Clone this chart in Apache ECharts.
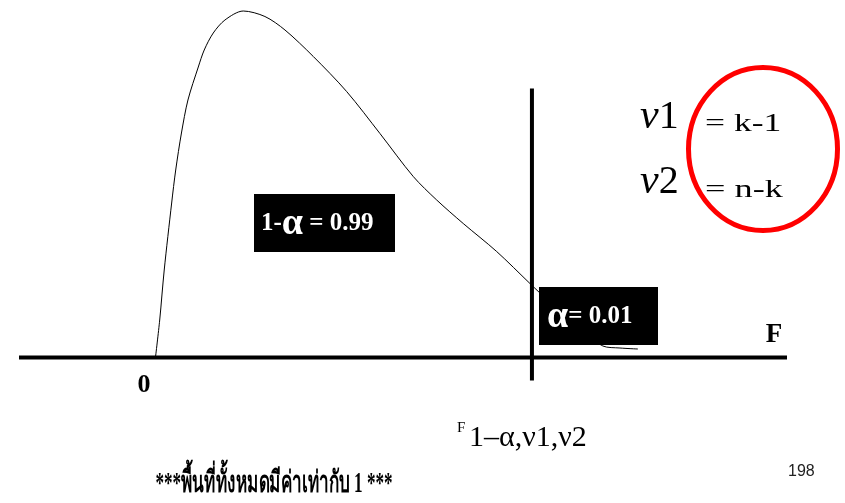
<!DOCTYPE html>
<html>
<head>
<meta charset="utf-8">
<script src="https://cdn.jsdelivr.net/npm/echarts@6/dist/echarts.min.js"></script>
<style>
  html, body { margin: 0; padding: 0; background: #fff; }
  #chart { width: 845px; height: 503px; }
</style>
</head>
<body>
<div id="chart"></div>
<script>
// F-distribution density curve (values of F and the height of the curve)
const fValues = [0, 0.045, 0.093, 0.172, 0.215, 0.276, 0.345, 0.455, 0.518, 0.614, 0.738, 0.933,
  1.163, 1.376, 1.677, 2.031, 2.385, 2.739, 2.988, 3.270, 3.625, 3.979, 4.085, 4.404, 4.754, 4.935, 5.126];
const density = [0, 0.075, 0.175, 0.309, 0.375, 0.449, 0.515, 0.581, 0.615, 0.649, 0.675, 0.693,
  0.682, 0.655, 0.602, 0.532, 0.448, 0.362, 0.315, 0.268, 0.212, 0.148, 0.129, 0.075, 0.023, 0.019, 0.017];

// critical value F(1-α, ν1, ν2) and the two areas
const fCritical = 4.0;
const alpha = 0.01;
const confidence = 0.99;

// horizontal extent of the F axis and height of the critical line
const fAxisRange = [-1.45, 6.71];
const criticalLine = [-0.046, 0.538];

const SERIF = "'Liberation Serif', 'Times New Roman', serif";

const chart = echarts.init(document.getElementById('chart'), null, { renderer: 'canvas' });

function txt(x, y, text, font, opts) {
  const o = opts || {};
  const el = {
    type: 'text', x: x, y: y, z: 100,
    style: Object.assign({
      text: text, font: font, fill: o.fill || '#000',
      align: o.align || 'left', verticalAlign: o.va || 'middle',
      textAlign: o.align || 'left', textVerticalAlign: o.va || 'middle'
    }, o.rich ? { rich: o.rich } : {})
  };
  if (o.scaleX) el.scaleX = o.scaleX;
  return el;
}

const boxRich = {
  a: { fontSize: 25, fontWeight: 'bold', fontFamily: SERIF, fill: '#fff' },
  b: { fontSize: 38, fontWeight: 'bold', fontFamily: SERIF, fill: '#fff' }
};
const nuRich = {
  i: { fontSize: 42, fontStyle: 'italic', fontFamily: SERIF, fill: '#000' },
  n: { fontSize: 40, fontFamily: SERIF, fill: '#000' }
};

const option = {
  animation: false,
  backgroundColor: '#fff',
  grid: { left: 19, right: 58, top: 7.5, bottom: 145.5 },
  xAxis: { type: 'value', min: fAxisRange[0], max: fAxisRange[1], show: false },
  yAxis: { type: 'value', min: 0, max: 0.7, show: false },
  series: [
    {
      name: 'density', type: 'line', smooth: 0.3, symbol: 'none', clip: false, z: 2,
      lineStyle: { color: '#000', width: 1 },
      data: fValues.map((f, i) => [f, density[i]])
    },
    {
      name: 'F axis', type: 'line', symbol: 'none', clip: false, z: 3,
      lineStyle: { color: '#000', width: 4 },
      data: [[fAxisRange[0], 0], [fAxisRange[1], 0]]
    },
    {
      name: 'critical', type: 'line', symbol: 'none', clip: false, z: 3,
      lineStyle: { color: '#000', width: 4 },
      data: [[fCritical, criticalLine[0]], [fCritical, criticalLine[1]]]
    }
  ],
  graphic: [
    // area 1-α
    { type: 'rect', z: 90, shape: { x: 254, y: 194, width: 141, height: 58 }, style: { fill: '#000' } },
    txt(261, 224, '{a|1-}{b|α}{a| = ' + confidence.toFixed(2) + '}', 'bold 25px ' + SERIF, { fill: '#fff', rich: boxRich }),
    // area α
    { type: 'rect', z: 90, shape: { x: 539, y: 287, width: 119, height: 58 }, style: { fill: '#000' } },
    txt(547, 317, '{b|α}{a|= ' + alpha.toFixed(2) + '}', 'bold 25px ' + SERIF, { fill: '#fff', rich: boxRich }),
    // axis labels
    txt(774, 335, 'F', 'bold 27px ' + SERIF, { align: 'center' }),
    txt(144, 385, '0', 'bold 26px ' + SERIF, { align: 'center' }),
    // degrees of freedom
    txt(640, 117, '{i|ν}{n|1}', '40px ' + SERIF, { rich: nuRich }),
    txt(705, 124, '= k-1', '25px ' + SERIF, { scaleX: 1.42 }),
    txt(640, 182, '{i|ν}{n|2}', '40px ' + SERIF, { rich: nuRich }),
    txt(705, 190, '= n-k', '25px ' + SERIF, { scaleX: 1.45 }),
    {
      type: 'ellipse', z: 95,
      shape: { cx: 763, cy: 149, rx: 74.5, ry: 81.5 },
      style: { fill: 'none', stroke: '#ff0000', lineWidth: 5 }
    },
    // critical value notation
    txt(457, 428, 'F', '15px ' + SERIF),
    txt(469, 438, '1–α,ν1,ν2', '30px ' + SERIF),
    // caption and page number
    txt(274, 484, '***พื้นที่ทั้งหมดมีค่าเท่ากับ 1 ***', 'bold 30px ' + SERIF, { align: 'center', scaleX: 0.57 }),
    txt(788, 472, '198', "16px 'Liberation Sans', Arial, sans-serif", { fill: '#222' })
  ]
};

chart.setOption(option);
</script>
</body>
</html>
